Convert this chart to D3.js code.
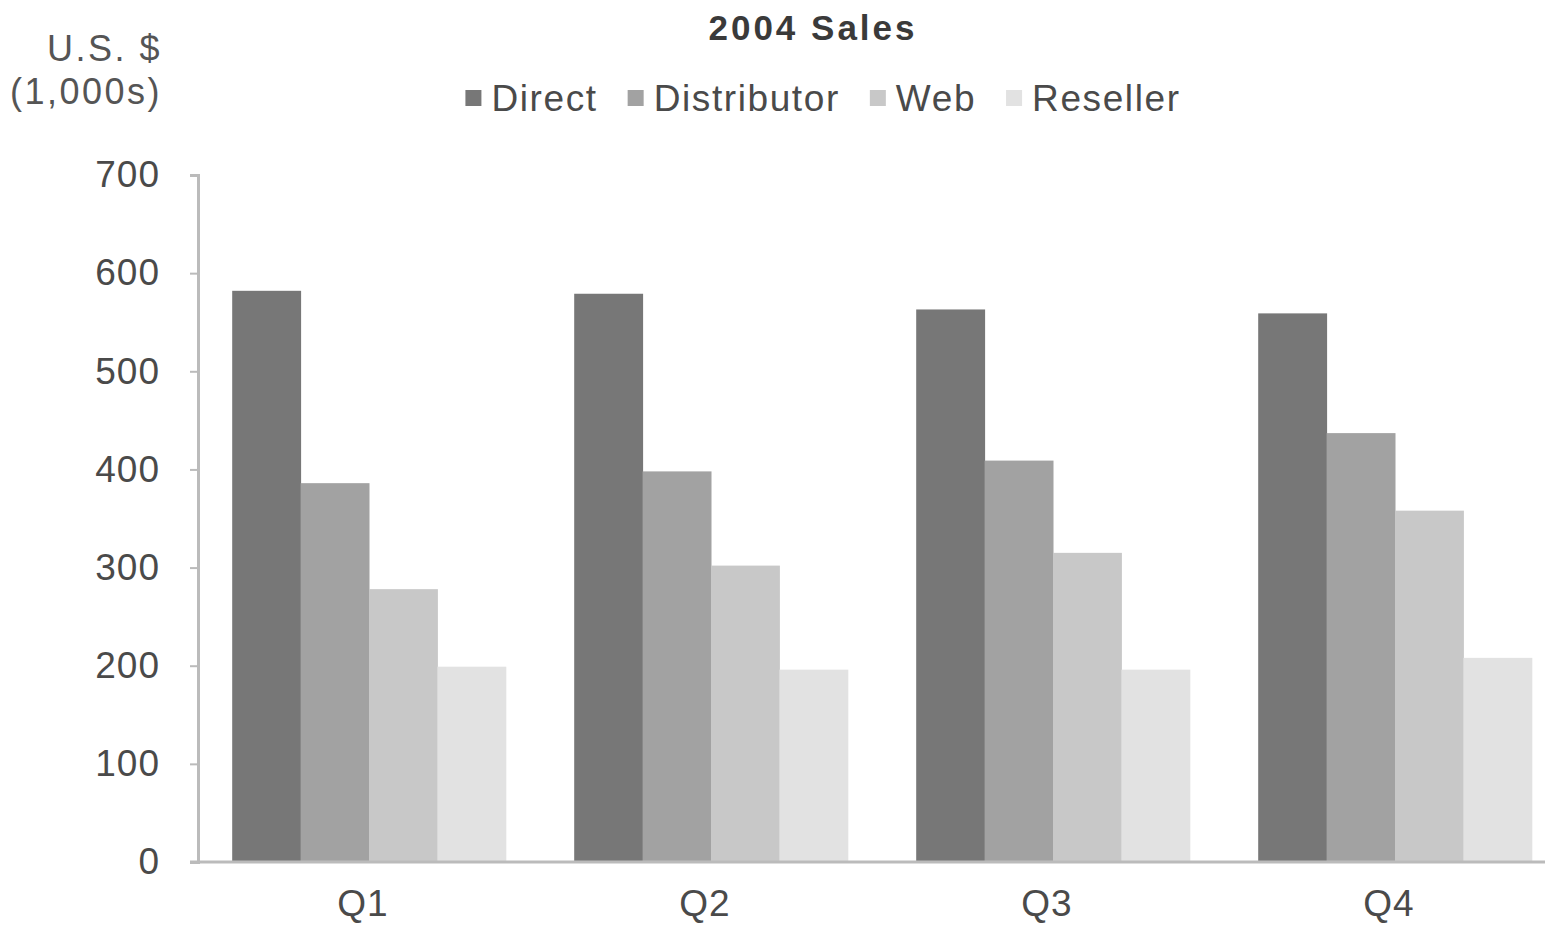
<!DOCTYPE html>
<html lang="en">
<head>
<meta charset="UTF-8">
<title>2004 Sales</title>
<script src="https://d3js.org/d3.v7.min.js"></script>
<style>
  body { margin: 0; background: #fff; }
  text { font-family: "Liberation Sans", Arial, sans-serif; }
</style>
</head>
<body>
<div id="chart"></div>
<script>
    // data
    const quarters = ["Q1", "Q2", "Q3", "Q4"];
    const channels = ["Direct", "Distributor", "Web", "Reseller"];
    const direct      = [582, 579, 563, 559];
    const distributor = [386, 398, 409, 437];
    const web         = [278, 302, 315, 358];
    const reseller    = [199, 196, 196, 208];
    const yTicks = [0, 100, 200, 300, 400, 500, 600, 700];
    const colors = ["#777777", "#a2a2a2", "#c8c8c8", "#e2e2e2"];

    const series = [direct, distributor, web, reseller];

    const W = 1545, H = 927;
    // plot edges in page pixels
    const plot = {left: 198, right: 1566, top: 175, bottom: 862};

    const svg = d3.select("#chart")
      .append("svg")
        .attr("width", W)
        .attr("height", H);

    const x0 = d3.scaleBand()
        .domain(quarters)
        .range([plot.left, plot.right])
        .paddingInner(0.2)
        .paddingOuter(0.1);

    const x1 = d3.scaleBand()
        .domain(channels)
        .range([0, x0.bandwidth()]);

    const y = d3.scaleLinear()
        .domain([0, 700])
        .range([plot.bottom, plot.top]);

    const color = d3.scaleOrdinal().domain(channels).range(colors);

    // bars
    const groups = svg.append("g")
      .selectAll("g")
      .data(quarters)
      .join("g")
        .attr("transform", d => `translate(${x0(d)},0)`);

    groups.selectAll("rect")
      .data((q, i) => channels.map((c, j) => ({channel: c, value: series[j][i]})))
      .join("rect")
        .attr("x", d => x1(d.channel))
        .attr("y", d => y(d.value))
        .attr("width", x1.bandwidth() + 0.5)
        .attr("height", d => y(0) - y(d.value))
        .attr("fill", d => color(d.channel));

    // y axis
    const yAxis = svg.append("g")
        .attr("transform", `translate(${plot.left},0)`)
        .call(d3.axisLeft(y).tickValues(yTicks).tickSize(8).tickPadding(30));
    yAxis.select(".domain").attr("stroke", "#bbbbbb").attr("stroke-width", 3);
    yAxis.selectAll(".tick line").attr("stroke", "#bbbbbb").attr("stroke-width", 2);
    yAxis.selectAll(".tick text")
        .attr("fill", "#4a4a4a")
        .attr("font-size", 37)
        .attr("letter-spacing", 1)
        .style("font-family", "'Liberation Sans', Arial, sans-serif");

    // x axis
    const xAxis = svg.append("g")
        .attr("transform", `translate(0,${plot.bottom})`)
        .call(d3.axisBottom(x0).tickSize(0).tickPadding(28));
    xAxis.select(".domain").remove();
    xAxis.append("line")
        .attr("x1", plot.left - 8).attr("x2", W)
        .attr("stroke", "#bbbbbb").attr("stroke-width", 3);
    xAxis.selectAll(".tick text")
        .attr("fill", "#4a4a4a")
        .attr("font-size", 37)
        .attr("letter-spacing", 1)
        .attr("dx", -6)
        .style("font-family", "'Liberation Sans', Arial, sans-serif");

    // y axis unit label
    const unit = svg.append("text")
        .attr("text-anchor", "end")
        .attr("fill", "#555")
        .attr("font-size", 36)
        .attr("letter-spacing", 2.5);
    unit.append("tspan").attr("x", 162).attr("y", 61).text("U.S. $");
    unit.append("tspan").attr("x", 162).attr("y", 104).text("(1,000s)");

    // title
    svg.append("text")
        .attr("x", 813)
        .attr("y", 40)
        .attr("text-anchor", "middle")
        .attr("font-size", 35)
        .attr("font-weight", "bold")
        .attr("letter-spacing", 3)
        .attr("fill", "#3a3a3a")
        .text("2004 Sales");

    // legend
    const legend = svg.append("g");
    let lx = 0;
    channels.forEach(function(c) {
      const item = legend.append("g").attr("transform", `translate(${lx},0)`);
      item.append("rect")
          .attr("x", 0).attr("y", -8)
          .attr("width", 16).attr("height", 16)
          .attr("fill", color(c));
      const t = item.append("text")
          .attr("x", 26).attr("y", 13)
          .attr("font-size", 37)
          .attr("letter-spacing", 1.6)
          .attr("fill", "#4a4a4a")
          .text(c);
      lx += 26 + t.node().getComputedTextLength() + 30;
    });
    const legendWidth = lx - 30;
    legend.attr("transform", `translate(${823 - legendWidth / 2},98)`);
</script>
</body>
</html>
